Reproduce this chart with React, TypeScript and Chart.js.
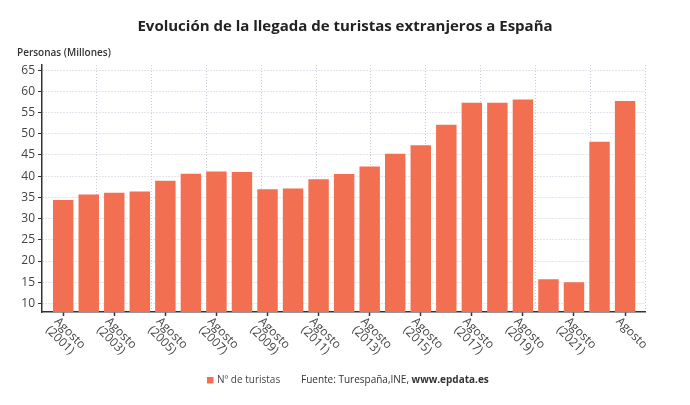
import React, { useEffect, useRef } from "react";
import { Chart, registerables } from "chart.js";

Chart.register(...registerables);

const years = [2001, 2002, 2003, 2004, 2005, 2006, 2007, 2008, 2009, 2010, 2011, 2012, 2013, 2014, 2015, 2016, 2017, 2018, 2019, 2020, 2021, 2022, 2023];
const tourists = [34.4, 35.7, 36.1, 36.4, 38.9, 40.6, 41.1, 41.0, 36.9, 37.1, 39.3, 40.5, 42.3, 45.3, 47.3, 52.1, 57.3, 57.3, 58.1, 15.7, 15.0, 48.1, 57.7];
const tickIndices = [0, 2, 4, 6, 8, 10, 12, 14, 16, 18, 20, 22];
const tickLabelLines = [
  ["Agosto", "(2001)"], ["Agosto", "(2003)"], ["Agosto", "(2005)"], ["Agosto", "(2007)"],
  ["Agosto", "(2009)"], ["Agosto", "(2011)"], ["Agosto", "(2013)"], ["Agosto", "(2015)"],
  ["Agosto", "(2017)"], ["Agosto", "(2019)"], ["Agosto", "(2021)"], ["Agosto"],
];
const yTicks = [10, 15, 20, 25, 30, 35, 40, 45, 50, 55, 60, 65];
const vGrid = [1, 2, 3, 4, 5, 6, 7, 8, 9, 10, 11];

const TITLE = "Evolución de la llegada de turistas extranjeros a España";
const Y_TITLE = "Personas (Millones)";
const SERIES = "Nº de turistas";
const SOURCE = "Fuente: Turespaña,INE, ";
const SOURCE_BOLD = "www.epdata.es";

const BAR = "#f26f52";
const GRID = "#cfc6da";
const AXIS = "#333333";
const FONT = "'Open Sans', sans-serif";

const textPlugin = {
  id: "texts",
  afterDraw(chart: any) {
    const ctx = chart.ctx;
    const xs = chart.scales.x;
    const bottom = chart.chartArea.bottom;
    ctx.save();
    ctx.fillStyle = "#222";
    ctx.font = `bold 15px ${FONT}`;
    ctx.textAlign = "center";
    ctx.textBaseline = "middle";
    ctx.fillText(TITLE, 345, 27);
    ctx.font = `600 10px ${FONT}`;
    ctx.fillStyle = "#333";
    ctx.textAlign = "left";
    ctx.fillText(Y_TITLE, 17, 53);
    ctx.font = `12px ${FONT}`;
    ctx.fillStyle = "#444";
    tickIndices.forEach((idx, k) => {
      const px = xs.getPixelForValue(idx);
      ctx.save();
      ctx.translate(px, bottom + 2);
      ctx.rotate(Math.PI / 4);
      ctx.textAlign = "left";
      ctx.textBaseline = "top";
      tickLabelLines[k].forEach((ln, j) => {
        ctx.fillText(ln, -1, 3 + j * 12);
      });
      ctx.restore();
    });
    ctx.fillStyle = BAR;
    ctx.fillRect(207, 377, 6.5, 6.5);
    ctx.font = `10px ${FONT}`;
    ctx.fillStyle = "#444";
    ctx.textBaseline = "middle";
    ctx.textAlign = "left";
    ctx.fillText(SERIES, 217, 380.5);
    ctx.fillStyle = "#333";
    ctx.fillText(SOURCE, 301, 380.5);
    const w = ctx.measureText(SOURCE).width;
    ctx.font = `bold 10px ${FONT}`;
    ctx.fillText(SOURCE_BOLD, 301 + w, 380.5);
    ctx.restore();
  },
};

export default function App() {
  const ref = useRef<HTMLCanvasElement>(null);
  useEffect(() => {
    document.body.style.margin = "0";
    const chart = new Chart(ref.current as HTMLCanvasElement, {
      type: "bar",
      data: {
        datasets: [
          {
            label: SERIES,
            data: tourists.map((v, i) => ({ x: i, y: v })),
            backgroundColor: BAR,
            barPercentage: 0.8,
            categoryPercentage: 1,
            xAxisID: "x",
            yAxisID: "y",
          } as any,
        ],
      },
      options: {
        animation: false,
        responsive: false,
        maintainAspectRatio: false,
        layout: { padding: { left: 0, top: 65, right: 45, bottom: 88 } },
        plugins: { legend: { display: false }, tooltip: { enabled: false }, title: { display: false } },
        scales: {
          x: {
            type: "linear",
            position: "bottom",
            offset: false,
            min: -0.83,
            max: 22.78,
            afterBuildTicks: (s: any) => {
              s.ticks = tickIndices.map((v) => ({ value: v }));
            },
            afterFit: (s: any) => {
              s.height = 5;
            },
            ticks: { display: false },
            grid: { offset: false, drawOnChartArea: false, drawTicks: true, tickLength: 4, tickColor: AXIS, tickWidth: 1.5 },
            border: { display: true, color: AXIS, width: 1.5 },
          },
          xg: {
            type: "linear",
            position: "bottom",
            offset: false,
            min: 0,
            max: 11,
            afterBuildTicks: (s: any) => {
              s.ticks = vGrid.map((v) => ({ value: v }));
            },
            afterFit: (s: any) => {
              s.height = 0;
            },
            ticks: { display: false },
            grid: { offset: false, drawOnChartArea: true, drawTicks: false, color: GRID, lineWidth: 1 },
            border: { display: false, dash: [1, 2] },
          },
          y: {
            type: "linear",
            min: 8,
            max: 66.2,
            afterBuildTicks: (s: any) => {
              s.ticks = yTicks.map((v) => ({ value: v }));
            },
            afterFit: (s: any) => {
              s.width = 42;
            },
            ticks: { color: "#444", font: { family: FONT, size: 12 }, padding: 3 },
            grid: { color: GRID, lineWidth: 1, tickLength: 4, tickColor: AXIS, tickWidth: 1 },
            border: { display: true, color: AXIS, width: 1.5, dash: [1, 2] },
          },
        },
      },
      plugins: [textPlugin],
    } as any);
    return () => chart.destroy();
  }, []);
  return (
    <div style={{ width: 690, height: 405, position: "relative", background: "#fff" }}>
      <canvas ref={ref} width={690} height={405} style={{ width: 690, height: 405, display: "block" }} />
    </div>
  );
}
